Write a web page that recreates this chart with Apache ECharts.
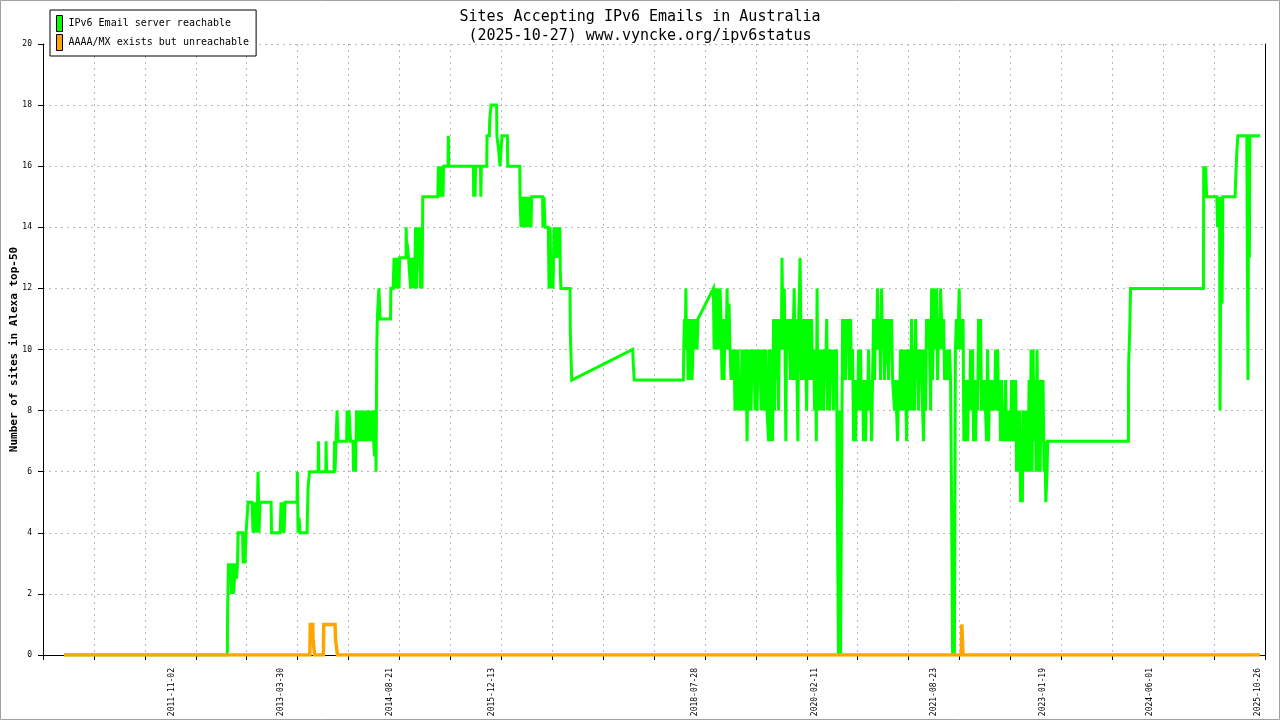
<!DOCTYPE html>
<html>
<head>
<meta charset="utf-8">
<title>Sites Accepting IPv6 Emails in Australia</title>
<script src="https://cdn.jsdelivr.net/npm/echarts@6/dist/echarts.min.js"></script>
<style>
  html, body { margin: 0; padding: 0; background: #ffffff; }
  #chart { width: 1280px; height: 720px; }
</style>
</head>
<body>
<div id="chart"></div>
<script>
// ---- Texts ----
const titleLines = ['Sites Accepting IPv6 Emails in Australia', '(2025-10-27) www.vyncke.org/ipv6status'];
const yAxisTitle = 'Number of sites in Alexa top-50';
const seriesNames = ['IPv6 Email server reachable', 'AAAA/MX exists but unreachable'];

// ---- X axis tick labels (dates) ----
const labelDates = ['2011-11-02', '2013-03-30', '2014-08-21', '2015-12-13', '2018-07-28',
                    '2020-02-11', '2021-08-23', '2023-01-19', '2024-06-01', '2025-10-26'];

// ---- Y axis ----
const yMin = 0, yMax = 20, yStep = 2;

// ---- Series: [decimal year, sites] ----
const reachablePoints = [
 [2010.448,0],[2012.549,0],[2012.553,1.5],[2012.564,3],[2012.577,2.5],[2012.590,3],[2012.603,2],[2012.616,3],[2012.629,2],[2012.642,2.5],
 [2012.655,3],[2012.668,2.5],[2012.680,3],[2012.687,4],[2012.745,4],[2012.752,3],[2012.765,4],[2012.777,3],[2012.790,4],[2012.809,4],
 [2012.816,5],[2012.867,5],[2012.880,4],[2012.893,5],[2012.906,4],[2012.918,5],[2012.931,4],[2012.944,6],[2012.957,4],[2012.970,5],
 [2013.112,5],[2013.118,4],[2013.228,4],[2013.241,5],[2013.254,4],[2013.267,5],[2013.279,4],[2013.292,5],[2013.446,5],[2013.450,6],
 [2013.459,4],[2013.472,4.5],[2013.485,4],[2013.575,4],[2013.588,5.5],[2013.607,6],[2013.717,6],[2013.721,7],[2013.727,6],[2013.816,6],
 [2013.820,7],[2013.826,6],[2013.922,6],[2013.929,7],[2013.935,6],[2013.948,7],[2013.961,8],[2013.974,7],[2014.084,7],[2014.090,8],
 [2014.103,7],[2014.116,8],[2014.135,7],[2014.167,7],[2014.173,6],[2014.186,7],[2014.199,6],[2014.212,8],[2014.225,7],[2014.238,8],
 [2014.251,7],[2014.263,8],[2014.276,7],[2014.289,8],[2014.302,7],[2014.315,8],[2014.328,7],[2014.341,8],[2014.353,7],[2014.366,8],
 [2014.379,7],[2014.392,8],[2014.405,7],[2014.418,8],[2014.431,7],[2014.444,6.5],[2014.456,8],[2014.463,6],[2014.472,10],[2014.479,11],
 [2014.495,11],[2014.499,12],[2014.512,12],[2014.516,11],[2014.649,11],[2014.653,12],[2014.682,12],[2014.695,13],[2014.708,12],[2014.721,13],
 [2014.733,12],[2014.746,13],[2014.759,12],[2014.765,13],[2014.849,13],[2014.851,14],[2014.857,13],[2014.862,13.5],[2014.881,13],[2014.900,13],
 [2014.907,12],[2014.920,13],[2014.932,12],[2014.945,13],[2014.958,12],[2014.971,14],[2014.984,12],[2014.997,14],[2015.010,13],[2015.023,14],
 [2015.035,12],[2015.048,14],[2015.055,12],[2015.064,15],[2015.257,15],[2015.265,16],[2015.274,15],[2015.286,16],[2015.299,15],[2015.312,16],
 [2015.325,15],[2015.331,16],[2015.389,16],[2015.393,17],[2015.399,16],[2015.715,16],[2015.719,15],[2015.729,16],[2015.737,15],[2015.743,16],
 [2015.807,16],[2015.811,15],[2015.818,16],[2015.887,16],[2015.891,17],[2015.921,17],[2015.925,17.5],[2015.940,17.5],[2015.943,18],[2016.014,18],
 [2016.018,17],[2016.037,17],[2016.041,16.5],[2016.055,16.5],[2016.058,16],[2016.080,16],[2016.084,17],[2016.153,17],[2016.157,16],[2016.312,16],
 [2016.316,15],[2016.328,14],[2016.341,15],[2016.354,14],[2016.367,15],[2016.380,14],[2016.393,15],[2016.405,14],[2016.418,15],[2016.431,14],
 [2016.444,15],[2016.457,14],[2016.466,15],[2016.605,15],[2016.611,14],[2016.624,15],[2016.637,14],[2016.679,14],[2016.689,12],[2016.702,14],
 [2016.715,12],[2016.727,13],[2016.740,12],[2016.753,14],[2016.766,13],[2016.779,14],[2016.792,13],[2016.805,14],[2016.817,13],[2016.828,14],
 [2016.834,12.5],[2016.843,12],[2016.959,12],[2016.963,10.5],[2016.976,10.5],[2016.981,9],[2017.766,10],[2017.773,9.5],[2017.780,9.5],[2017.786,9],
 [2018.418,9],[2018.422,10],[2018.431,11],[2018.440,10],[2018.450,12],[2018.457,10],[2018.466,11],[2018.478,9],[2018.491,11],[2018.503,9],
 [2018.516,11],[2018.529,9],[2018.542,10],[2018.555,11],[2018.568,10],[2018.581,11],[2018.594,10],[2018.606,11],[2018.625,11],[2018.804,12],
 [2018.813,10],[2018.825,12],[2018.838,10],[2018.851,11],[2018.864,12],[2018.877,10],[2018.889,12],[2018.902,11],[2018.915,9],[2018.928,11],
 [2018.941,9],[2018.954,11],[2018.967,10],[2018.980,12],[2018.992,10],[2019.005,11.5],[2019.018,10],[2019.031,9],[2019.044,10],[2019.057,9],
 [2019.069,10],[2019.082,8],[2019.095,10],[2019.108,8],[2019.121,10],[2019.134,8],[2019.147,9],[2019.159,8],[2019.172,10],[2019.185,8],
 [2019.198,10],[2019.211,8],[2019.224,10],[2019.237,7],[2019.249,10],[2019.262,8],[2019.276,10],[2019.288,8],[2019.301,10],[2019.314,9],
 [2019.327,10],[2019.340,8],[2019.353,10],[2019.366,8],[2019.378,10],[2019.391,9],[2019.404,10],[2019.417,8],[2019.430,10],[2019.443,8],
 [2019.456,10],[2019.468,8],[2019.481,10],[2019.494,8],[2019.514,7],[2019.526,10],[2019.539,7],[2019.552,10],[2019.565,7],[2019.578,11],
 [2019.591,8],[2019.604,11],[2019.617,9],[2019.629,11],[2019.642,8],[2019.655,11],[2019.668,10],[2019.681,11],[2019.687,13],[2019.696,11],
 [2019.707,10],[2019.716,12],[2019.726,10],[2019.736,7],[2019.746,11],[2019.758,10],[2019.771,11],[2019.784,10],[2019.797,9],[2019.810,11],
 [2019.822,9],[2019.835,11],[2019.844,12],[2019.855,9],[2019.868,11],[2019.880,9],[2019.891,7],[2019.901,11],[2019.912,12],[2019.919,13],
 [2019.929,11],[2019.938,9],[2019.951,11],[2019.964,9],[2019.977,11],[2019.990,10],[2020.004,8],[2020.016,11],[2020.029,9],[2020.041,11],
 [2020.054,9],[2020.067,11],[2020.080,9],[2020.093,10],[2020.106,8],[2020.119,10],[2020.128,7],[2020.138,12],[2020.148,8],[2020.160,10],
 [2020.171,8],[2020.183,10],[2020.196,8],[2020.209,10],[2020.222,8],[2020.235,10],[2020.247,9],[2020.262,11],[2020.273,8],[2020.286,10],
 [2020.299,8],[2020.312,10],[2020.325,9],[2020.338,10],[2020.350,8],[2020.363,10],[2020.376,9],[2020.389,10],[2020.398,5],[2020.414,0],
 [2020.427,8],[2020.440,0],[2020.453,0],[2020.466,11],[2020.479,9],[2020.492,11],[2020.505,9],[2020.518,11],[2020.531,10],[2020.543,11],
 [2020.556,9],[2020.569,11],[2020.582,9],[2020.595,10],[2020.608,7],[2020.620,9],[2020.633,7],[2020.646,9],[2020.659,8],[2020.672,10],
 [2020.685,8],[2020.697,10],[2020.710,8],[2020.723,9],[2020.736,7],[2020.749,9],[2020.762,7],[2020.775,9],[2020.788,8],[2020.800,10],
 [2020.813,8],[2020.826,9],[2020.839,7],[2020.852,9],[2020.865,11],[2020.878,9],[2020.891,11],[2020.903,10],[2020.916,12],[2020.929,10],
 [2020.942,11],[2020.955,9],[2020.968,12],[2020.981,10],[2020.994,11],[2021.006,9],[2021.019,11],[2021.032,9.5],[2021.045,11],[2021.058,9],
 [2021.071,11],[2021.084,10],[2021.097,11],[2021.110,9],[2021.122,9],[2021.135,8],[2021.148,9],[2021.161,8],[2021.174,7],[2021.187,9],
 [2021.199,8],[2021.212,10],[2021.225,8],[2021.238,10],[2021.251,8],[2021.264,10],[2021.277,9],[2021.290,7],[2021.303,10],[2021.315,8],
 [2021.328,10],[2021.341,8],[2021.354,11],[2021.367,8],[2021.380,10],[2021.393,8],[2021.405,11],[2021.418,9],[2021.431,10],[2021.444,8],
 [2021.457,10],[2021.470,9],[2021.483,10],[2021.496,8],[2021.508,7],[2021.521,10],[2021.534,8],[2021.547,11],[2021.560,10],[2021.573,11],
 [2021.586,10],[2021.599,8],[2021.612,12],[2021.624,9],[2021.637,11],[2021.650,12],[2021.663,10],[2021.676,12],[2021.689,9],[2021.702,11],
 [2021.714,10],[2021.727,12],[2021.740,11],[2021.753,10],[2021.766,11],[2021.779,9],[2021.792,10],[2021.805,9],[2021.818,10],[2021.830,9],
 [2021.843,10],[2021.856,9],[2021.869,5],[2021.882,0],[2021.895,5],[2021.905,0],[2021.918,10],[2021.931,11],[2021.944,10],[2021.957,11],
 [2021.967,12],[2021.978,10],[2021.991,11],[2022.004,10],[2022.017,11],[2022.027,7],[2022.036,9],[2022.049,7],[2022.062,9],[2022.075,7],
 [2022.088,9],[2022.101,8],[2022.113,10],[2022.126,8],[2022.139,10],[2022.152,7],[2022.165,9],[2022.178,7],[2022.191,9],[2022.204,8],
 [2022.216,11],[2022.229,9],[2022.242,11],[2022.255,8],[2022.268,9],[2022.281,8],[2022.294,9],[2022.306,8],[2022.319,7],[2022.332,10],
 [2022.345,7],[2022.358,9],[2022.371,8],[2022.384,9],[2022.397,8],[2022.409,9],[2022.422,8],[2022.435,10],[2022.448,8],[2022.461,10],
 [2022.474,8],[2022.487,9],[2022.499,7],[2022.512,9],[2022.525,7],[2022.538,8],[2022.551,7],[2022.564,9],[2022.577,7],[2022.590,8],
 [2022.603,7],[2022.615,8],[2022.628,7],[2022.641,9],[2022.654,7],[2022.667,9],[2022.680,7],[2022.693,9],[2022.705,6],[2022.718,8],
 [2022.731,6],[2022.744,8],[2022.757,5],[2022.770,7],[2022.780,5],[2022.789,8],[2022.802,6],[2022.815,8],[2022.828,6],[2022.841,8],
 [2022.853,6],[2022.866,9],[2022.879,6],[2022.892,10],[2022.905,6],[2022.918,10],[2022.931,7],[2022.944,9],[2022.957,6],[2022.969,10],
 [2022.982,6],[2022.995,9],[2023.008,6],[2023.021,9],[2023.034,7],[2023.046,9],[2023.059,6],[2023.072,7],[2023.081,5],[2023.098,6],
 [2023.105,7],[2024.144,7],[2024.147,9.5],[2024.160,10.5],[2024.172,12],[2025.110,12],[2025.113,16],[2025.125,15],[2025.138,16],[2025.151,15],
 [2025.161,15],[2025.282,15],[2025.292,14],[2025.305,15],[2025.318,14],[2025.324,8],[2025.333,14],[2025.344,15],[2025.350,11.5],[2025.359,15],
 [2025.517,15],[2025.524,15.5],[2025.540,16.5],[2025.553,17],[2025.668,17],[2025.675,13],[2025.683,9],[2025.692,17],[2025.701,13],[2025.708,17],
 [2025.839,17]
];

const unreachablePoints = [
 [2010.448,0],[2013.611,0],[2013.616,1],[2013.648,1],[2013.652,0.5],[2013.669,0.5],[2013.673,0],
 [2013.785,0],[2013.790,1],[2013.935,1],[2013.942,0.5],[2013.961,0.5],[2013.966,0],
 [2021.995,0],[2022.000,1],[2022.013,1],[2022.017,0],[2025.839,0]
];

// ---- Colors ----
const seriesColors = ['#00ff00', '#ffa500'];

// helpers
function toDecimalYear(s) {
  const p = s.split('-').map(Number);
  const start = Date.UTC(p[0], 0, 1), end = Date.UTC(p[0] + 1, 0, 1);
  return p[0] + (Date.UTC(p[0], p[1] - 1, p[2]) - start) / (end - start);
}
const labelYears = labelDates.map(toDecimalYear);
function labelFor(v) {
  let best = 0;
  for (let i = 1; i < labelYears.length; i++) {
    if (Math.abs(labelYears[i] - v) < Math.abs(labelYears[best] - v)) best = i;
  }
  return labelDates[best];
}

const mono = 'DejaVu Sans Mono, monospace';
const gridLine = { show: true, lineStyle: { color: '#b8b8b8', width: 1, type: [2, 4] } };

const chart = echarts.init(document.getElementById('chart'), null, { renderer: 'canvas' });
chart.setOption({
  animation: false,
  backgroundColor: '#ffffff',
  title: {
    text: titleLines.join('\n'),
    left: 'center',
    top: 3,
    textStyle: { fontFamily: mono, fontSize: 15, fontWeight: 'normal', color: '#000', lineHeight: 19 }
  },
  legend: {
    orient: 'vertical',
    left: 50,
    top: 10,
    padding: [5, 7, 5, 6],
    itemWidth: 6,
    itemHeight: 16,
    itemGap: 2,
    icon: 'rect',
    selectedMode: false,
    borderColor: '#000',
    borderWidth: 1,
    backgroundColor: '#fff',
    itemStyle: { borderColor: '#000', borderWidth: 1 },
    textStyle: { fontFamily: mono, fontSize: 10, color: '#000', padding: [6, 0, 0, 1] },
    data: seriesNames
  },
  grid: { left: 43, right: 15, top: 44, bottom: 65, containLabel: false, outerBoundsMode: 'none' },
  xAxis: [
    {
      type: 'value', position: 'bottom', min: 0, max: 24, interval: 1,
      axisLine: { show: true, onZero: false, lineStyle: { color: '#000', width: 1 } },
      axisTick: { show: true, inside: false, length: 5, lineStyle: { color: '#000' } },
      axisLabel: { show: false },
      splitLine: gridLine
    },
    {
      type: 'value', position: 'bottom', min: 2010.177, max: 2025.902,
      axisLine: { show: false, onZero: false },
      axisTick: { show: false },
      splitLine: { show: false },
      axisLabel: {
        show: true, rotate: 90, margin: 13, hideOverlap: false,
        customValues: labelYears,
        fontFamily: mono, fontSize: 8, color: '#000',
        formatter: labelFor
      }
    }
  ],
  yAxis: [
    {
      type: 'value', position: 'left', min: yMin, max: yMax, interval: yStep,
      name: yAxisTitle, nameLocation: 'middle', nameGap: 23, nameMoveOverlap: false,
      nameTextStyle: { fontFamily: mono, fontSize: 11, fontWeight: 'bold', color: '#000' },
      axisLine: { show: true, lineStyle: { color: '#000', width: 1 } },
      axisTick: { show: true, inside: false, length: 5, lineStyle: { color: '#000' } },
      axisLabel: { fontFamily: mono, fontSize: 8, color: '#000', margin: 11 },
      splitLine: gridLine
    },
    {
      type: 'value', position: 'right', min: yMin, max: yMax, interval: yStep,
      axisLine: { show: true, lineStyle: { color: '#000', width: 1 } },
      axisTick: { show: false },
      axisLabel: { show: false },
      splitLine: { show: false }
    }
  ],
  series: [
    {
      name: seriesNames[0], type: 'line', xAxisIndex: 1, yAxisIndex: 0,
      data: reachablePoints, showSymbol: false, symbol: 'none',
      color: seriesColors[0],
      lineStyle: { color: seriesColors[0], width: 3, join: 'miter' },
      z: 2
    },
    {
      name: seriesNames[1], type: 'line', xAxisIndex: 1, yAxisIndex: 0,
      data: unreachablePoints, showSymbol: false, symbol: 'none',
      color: seriesColors[1],
      lineStyle: { color: seriesColors[1], width: 3.5, join: 'miter' },
      z: 3
    }
  ],
  graphic: [
    {
      type: 'rect', silent: true, z: 100,
      shape: { x: 0.5, y: 0.5, width: 1279, height: 719 },
      style: { fill: 'none', stroke: '#a0a0a0', lineWidth: 1 }
    }
  ]
});
</script>
</body>
</html>
